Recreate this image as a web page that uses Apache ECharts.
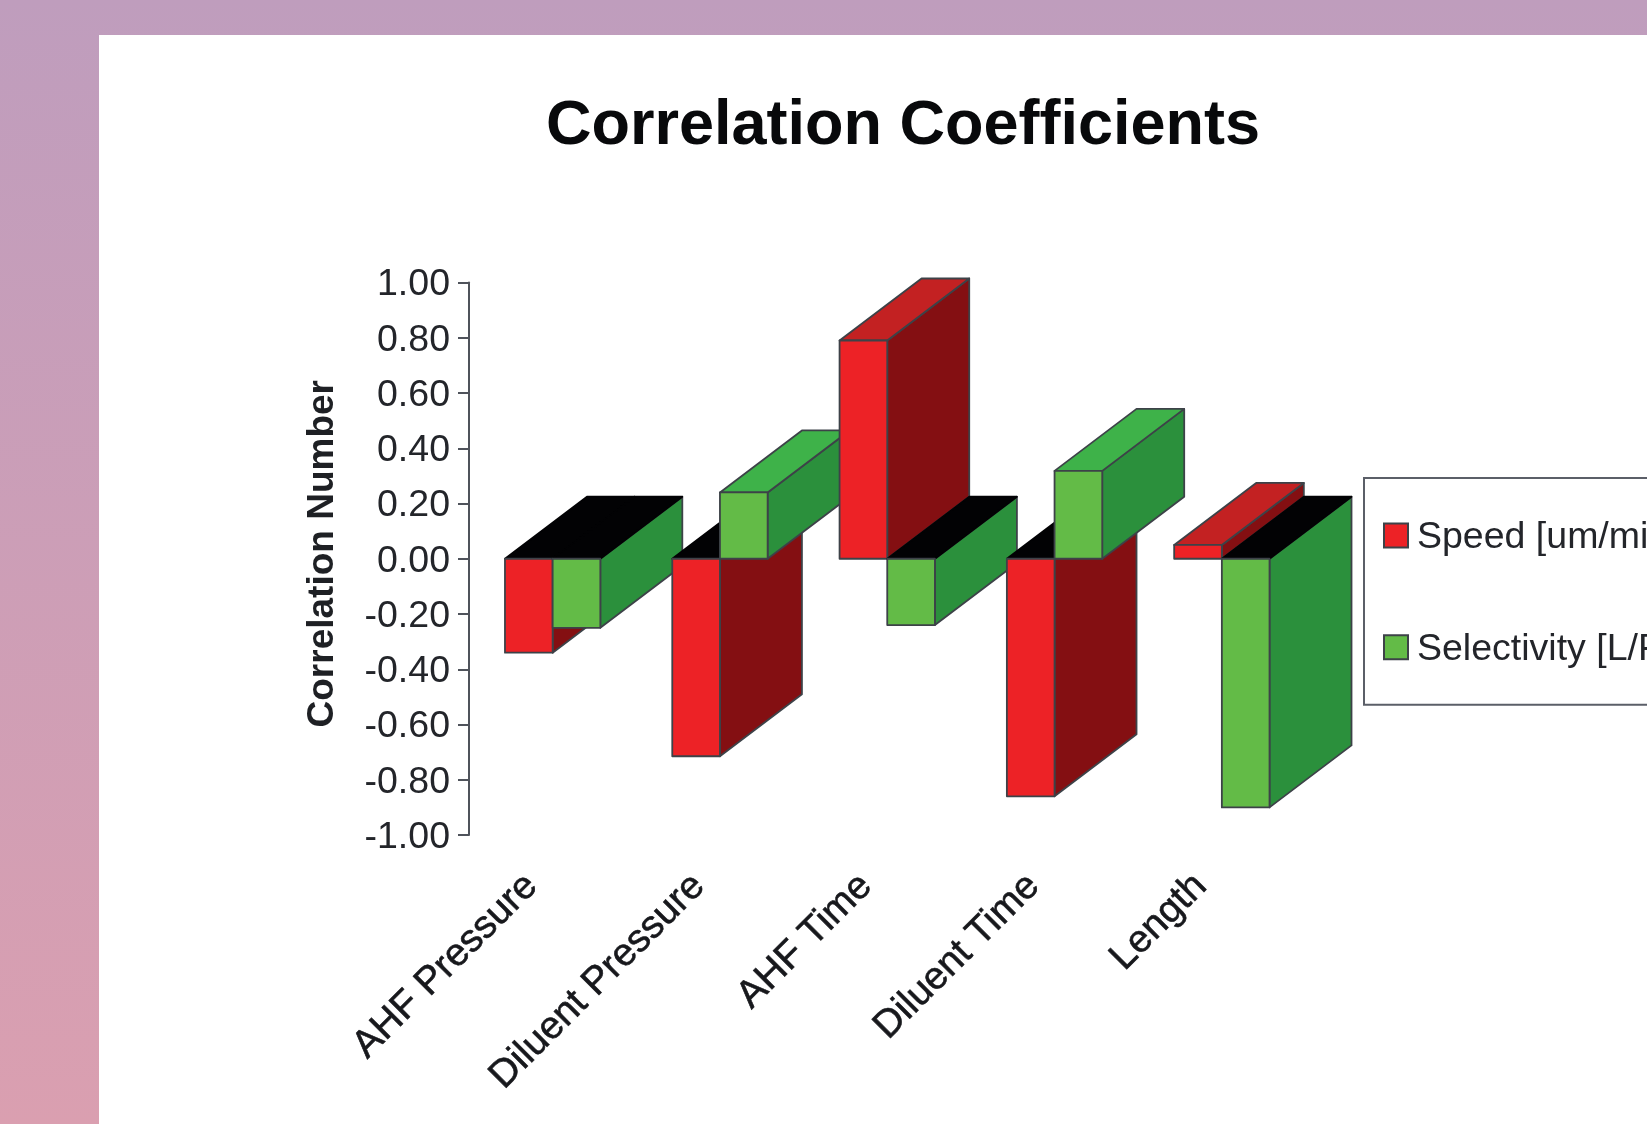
<!DOCTYPE html>
<html>
<head>
<meta charset="utf-8">
<style>html,body{margin:0;padding:0;overflow:hidden;background:#fff}#c{width:1647px;height:1124px}</style>
<script src="https://cdn.jsdelivr.net/npm/echarts@6/dist/echarts.min.js"></script>
</head>
<body>
<div id="c"></div>
<script>
const categories = ['AHF Pressure', 'Diluent Pressure', 'AHF Time', 'Diluent Time', 'Length'];
const speed = [-0.34, -0.715, 0.79, -0.86, 0.05];
const selectivity = [-0.25, 0.24, -0.24, 0.318, -0.90];
const seriesNames = ['Speed [um/min]', 'Selectivity [L/F]'];

const FONT = '"Liberation Sans", Arial, sans-serif';
const EDGE = '#3d4248';
const BLACK = '#020204';
const chart = echarts.init(document.getElementById('c'));

function bar3d(seriesIdx, palette) {
  return function (params, api) {
    const cat = api.value(0), v = api.value(1);
    const band = api.size([1, 0])[0];
    const w = band * 0.285, dx = band * 0.49, dy = -62;
    const c = api.coord([cat, 0]);
    const y0 = c[1], y1 = api.coord([cat, v])[1];
    const xl = seriesIdx === 0 ? c[0] - w : c[0], xr = xl + w;
    const base = cat * 100 + seriesIdx * 10;
    const ytop = Math.min(y0, y1);
    const poly = (pts, fill, off, stroke) => ({
      type: 'polygon', z2: base + off,
      shape: { points: pts },
      style: { fill: fill, stroke: stroke || EDGE, lineWidth: 1.8, lineJoin: 'round' }
    });
    return {
      type: 'group',
      children: [
        poly([[xr, y0], [xr + dx, y0 + dy], [xr + dx, y1 + dy], [xr, y1]], palette.side, 1),
        poly([[xl, ytop], [xl + dx, ytop + dy], [xr + dx, ytop + dy], [xr, ytop]],
          v < 0 ? BLACK : palette.top, 2, v < 0 ? BLACK : EDGE),
        poly([[xl, y0], [xr, y0], [xr, y1], [xl, y1]], palette.front, 3)
      ]
    };
  };
}

const paletteSpeed = { front: '#ed2226', side: '#840f12', top: '#c32122' };
const paletteSel = { front: '#63bb47', side: '#2b903c', top: '#3eb249' };
const tickRich = { a: { fontFamily: FONT, fontSize: 37.5, color: '#23252a', padding: [5, 0, 0, 0] } };
const legendRich = { a: { fontFamily: FONT, fontSize: 37.5, color: '#23252a', padding: [5, 0, 0, 4] } };

chart.setOption({
  animation: false,
  backgroundColor: {
    type: 'linear', x: 0, y: 0, x2: 0, y2: 1,
    colorStops: [{ offset: 0, color: '#bf9dbd' }, { offset: 1, color: '#da9fb0' }]
  },
  graphic: [{
    type: 'rect', z: -10, silent: true,
    shape: { x: 99, y: 35, width: 1548, height: 1089 },
    style: { fill: '#ffffff' }
  }],
  title: {
    text: 'Correlation Coefficients',
    left: 898, top: 90, textAlign: 'center',
    textStyle: { fontFamily: FONT, fontWeight: 'bold', fontSize: 63, color: '#08090b' }
  },
  grid: { left: 469, top: 282.5, width: 836.5, height: 552.5, containLabel: false },
  xAxis: {
    type: 'category', data: categories,
    axisLine: { show: false }, axisTick: { show: false }, splitLine: { show: false },
    axisLabel: {
      interval: 0, rotate: 45, margin: 24, align: 'right', verticalAlign: 'middle',
      padding: [0, 30, 0, 0],
      fontFamily: FONT, fontSize: 38.7, color: '#17181c',
      textBorderColor: '#17181c', textBorderWidth: 0.6
    }
  },
  yAxis: {
    type: 'value', min: -1, max: 1, interval: 0.2,
    name: 'Correlation Number', nameLocation: 'middle', nameGap: 128, nameRotate: 90,
    nameTextStyle: { fontFamily: FONT, fontWeight: 'bold', fontSize: 37, color: '#1e2024', padding: [0, 0, 0, 10] },
    axisLine: { show: true, lineStyle: { color: '#4f535b', width: 2 } },
    axisTick: { show: true, length: 11, lineStyle: { color: '#4f535b', width: 2 } },
    splitLine: { show: false },
    axisLabel: {
      margin: 19, rich: tickRich,
      formatter: v => '{a|' + v.toFixed(2) + '}'
    }
  },
  legend: {
    orient: 'vertical', left: 1364, top: 478,
    data: seriesNames,
    padding: [41, 20, 36, 19], itemGap: 73.8, itemWidth: 24, itemHeight: 24,
    icon: 'rect',
    backgroundColor: '#ffffff', borderColor: '#5b5f68', borderWidth: 2,
    formatter: name => '{a|' + name + '}',
    textStyle: { rich: legendRich }
  },
  series: [
    {
      name: seriesNames[0], type: 'custom', renderItem: bar3d(0, paletteSpeed),
      encode: { x: 0, y: 1 }, data: speed.map((v, i) => [i, v]),
      itemStyle: { color: paletteSpeed.front, borderColor: EDGE, borderWidth: 1.8 }
    },
    {
      name: seriesNames[1], type: 'custom', renderItem: bar3d(1, paletteSel),
      encode: { x: 0, y: 1 }, data: selectivity.map((v, i) => [i, v]),
      itemStyle: { color: paletteSel.front, borderColor: EDGE, borderWidth: 1.8 }
    }
  ]
});
</script>
</body>
</html>
